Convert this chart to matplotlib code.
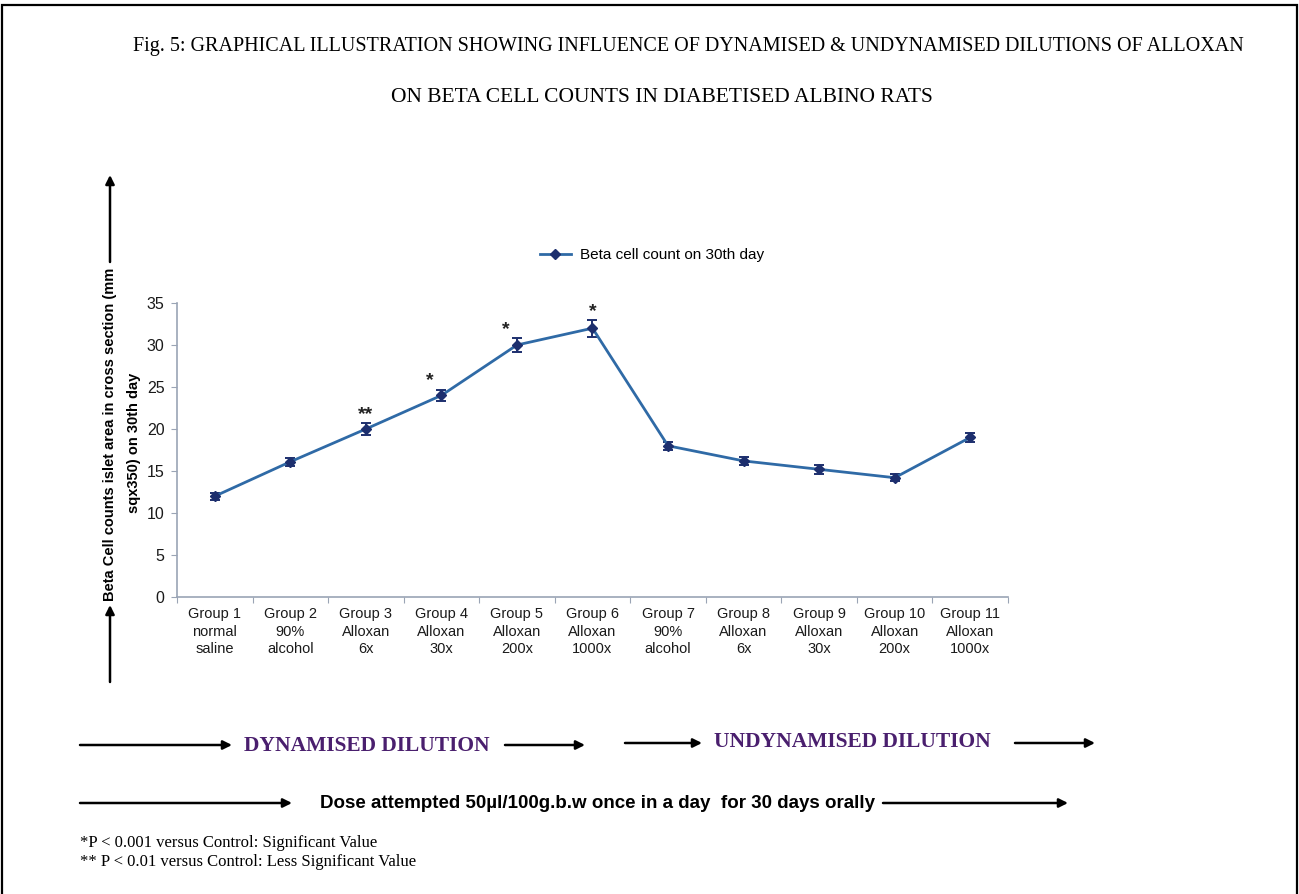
import matplotlib
matplotlib.use("Agg")
import matplotlib.pyplot as plt
from matplotlib.patches import Rectangle, FancyArrowPatch

# ===============================
# DATA
# ===============================
groups = ["Group 1\nnormal\nsaline", "Group 2\n90%\nalcohol", "Group 3\nAlloxan\n6x",
          "Group 4\nAlloxan\n30x", "Group 5\nAlloxan\n200x", "Group 6\nAlloxan\n1000x",
          "Group 7\n90%\nalcohol", "Group 8\nAlloxan\n6x", "Group 9\nAlloxan\n30x",
          "Group 10\nAlloxan\n200x", "Group 11\nAlloxan\n1000x"]
beta_count = [12.0, 16.1, 20.0, 24.0, 30.0, 32.0, 18.0, 16.2, 15.2, 14.2, 19.0]
beta_err = [0.4, 0.5, 0.7, 0.7, 0.8, 1.0, 0.5, 0.5, 0.5, 0.4, 0.5]
signif = ["", "", "**", "*", "*", "*", "", "", "", "", ""]
yticks = [0, 5, 10, 15, 20, 25, 30, 35]

W, H = 1299, 894
LINE = "#2f6aa6"
MARK = "#1d2f6e"
PURPLE = "#4a1f6e"


def arrow(x0, x1, y0, y1=None, lw=1.8):
    if y1 is None:
        y1 = y0
    fig.add_artist(FancyArrowPatch(
        (x0, H - y0), (x1, H - y1), transform=None,
        arrowstyle="-|>", mutation_scale=13, color="black", lw=lw,
        shrinkA=0, shrinkB=0))


fig = plt.figure(figsize=(W / 100, H / 100), dpi=100)
fig.patch.set_facecolor("white")

# outer frame
fig.add_artist(Rectangle((2 / W, -0.01), (W - 4) / W, 1 - 5 / H + 0.01,
                         transform=fig.transFigure, fill=False,
                         edgecolor="black", lw=1.6))

ax = fig.add_axes([177 / W, 1 - 597 / H, 831 / W, 294 / H])

x = list(range(len(groups)))
ax.errorbar(x, beta_count, yerr=beta_err, fmt="none", ecolor=MARK,
            elinewidth=1.4, capsize=3.5, capthick=1.4, zorder=3)
ax.plot(x, beta_count, color=LINE, lw=2, marker="D", ms=5,
        mfc=MARK, mec=MARK, label="Beta cell count on 30th day", zorder=4)

for i, s in enumerate(signif):
    if s:
        dx = -0.15 if s == "*" and i in (3, 4) else 0
        ax.text(i + dx, beta_count[i] + beta_err[i] + 0.5, s, ha="center",
                va="baseline", fontsize=14, family="Liberation Sans",
                weight="bold", color="#222222")

ax.set_xlim(-0.5, len(groups) - 0.5)
ax.set_ylim(0, 35)
ax.set_yticks(yticks)
ax.set_xticks([i - 0.5 for i in range(len(groups) + 1)])
ax.set_xticklabels([])
ax.set_xticks(x, minor=True)
ax.set_xticklabels(groups, minor=True, fontsize=10.5, family="Liberation Sans",
                   linespacing=1.35, color="#1a1a1a")
ax.tick_params(axis="x", which="minor", length=0, pad=7)
ax.tick_params(axis="x", which="major", length=4, color="#9aa4b5")
ax.tick_params(axis="y", length=4, color="#9aa4b5", labelsize=11.5, pad=5,
               labelcolor="#1a1a1a")
for lab in ax.get_yticklabels():
    lab.set_family("Liberation Sans")
for sp in ["top", "right"]:
    ax.spines[sp].set_visible(False)
for sp in ["left", "bottom"]:
    ax.spines[sp].set_color("#9aa4b5")
    ax.spines[sp].set_linewidth(1.2)

ax.legend(loc="center", bbox_to_anchor=((652 - 177) / 831, (597 - 255) / 294),
          frameon=False, handlelength=2.0, handletextpad=0.6,
          prop={"family": "Liberation Sans", "size": 11})

# title
fig.text(688 / W, 1 - 47 / H,
         "Fig. 5: GRAPHICAL ILLUSTRATION SHOWING INFLUENCE OF DYNAMISED & UNDYNAMISED DILUTIONS OF ALLOXAN",
         ha="center", va="center", fontsize=14.5, family="Liberation Serif")
fig.text(662 / W, 1 - 98 / H, "ON BETA CELL COUNTS IN DIABETISED ALBINO RATS",
         ha="center", va="center", fontsize=15.5, family="Liberation Serif")

# y label with vertical arrows
arrow(110, 110, 682, 605)
arrow(110, 110, 262, 175)
fig.text(110 / W, 1 - 434 / H,
         "Beta Cell counts islet area in cross section (mm",
         rotation=90, ha="center", va="center", fontsize=10.5,
         family="Liberation Sans", weight="bold")
fig.text(134 / W, 1 - 443 / H, "sqx350) on 30th day",
         rotation=90, ha="center", va="center", fontsize=10.5,
         family="Liberation Sans", weight="bold")

# dilution arrows
arrow(80, 232, 745)
fig.text(367 / W, 1 - 746 / H, "DYNAMISED DILUTION", ha="center", va="center",
         fontsize=15.5, family="Liberation Serif", weight="bold", color=PURPLE)
arrow(505, 585, 745)
arrow(625, 702, 743)
fig.text(852 / W, 1 - 742 / H, "UNDYNAMISED DILUTION", ha="center", va="center",
         fontsize=15.5, family="Liberation Serif", weight="bold", color=PURPLE)
arrow(1015, 1095, 743)

arrow(80, 292, 803)
fig.text(598 / W, 1 - 803 / H,
         "Dose attempted 50\u00b5l/100g.b.w once in a day  for 30 days orally",
         ha="center", va="center", fontsize=13.5, family="Liberation Sans",
         weight="bold")
arrow(883, 1068, 803)

fig.text(80 / W, 1 - 843 / H, "*P < 0.001 versus Control: Significant Value",
         ha="left", va="center", fontsize=12, family="Liberation Serif")
fig.text(80 / W, 1 - 862 / H, "** P < 0.01 versus Control: Less Significant Value",
         ha="left", va="center", fontsize=12, family="Liberation Serif")

fig.savefig("out.png", dpi=100, facecolor="white")
